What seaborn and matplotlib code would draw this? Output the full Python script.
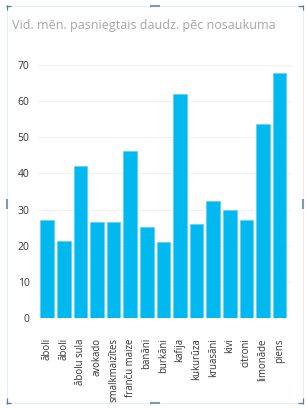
import matplotlib
matplotlib.use("Agg")
import matplotlib.pyplot as plt
import seaborn as sns
import pandas as pd
from matplotlib.lines import Line2D

categories = ["āboli", "āboli", "ābolu sula", "avokado", "smalkmaizītes", "franču maize",
              "banāni", "burkāni", "kafija", "kukurūza", "kruasāni", "kivi", "citroni",
              "limonāde", "piens"]
values = [27.0, 21.2, 42.0, 26.5, 26.5, 46.2, 25.3, 20.9, 62.1, 26.1, 32.5, 29.8, 27.0, 53.7, 67.8]
yticks = [0, 10, 20, 30, 40, 50, 60, 70]
title = "Vid. mēn. pasniegtais daudz. pēc nosaukuma"

sns.set_style("white")
plt.rcParams['font.family'] = ['Open Sans', 'DejaVu Sans']

W, H = 308, 408
fig = plt.figure(figsize=(W / 100, H / 100), dpi=100)
ax = fig.add_axes([38 / W, (H - 318) / H, (292 - 38) / W, (318 - 65) / H])

df = pd.DataFrame({"pos": [str(i) for i in range(len(categories))], "val": values})
sns.barplot(data=df, x="pos", y="val", color="#01B8EF", saturation=1, width=0.82,
            edgecolor="#5fd2f5", linewidth=0.6, ax=ax)

ax.set_xlim(-0.55, len(categories) - 0.25)
ax.set_ylim(0, 70)
ax.set_yticks(yticks)
ax.set_yticklabels([str(t) for t in yticks], fontsize=7.5, color="#333333")
ax.set_xticks(range(len(categories)))
ax.set_xticklabels(categories, rotation=90, fontsize=6.9, color="#333333", va="top", ha="center")
ax.tick_params(axis="x", length=0, pad=14.5)
ax.tick_params(axis="y", length=0, pad=6)
ax.set_xlabel("")
ax.set_ylabel("")
ax.yaxis.grid(True, color="#f0f0f0", linewidth=0.8)
ax.set_axisbelow(True)
for s in ax.spines.values():
    s.set_visible(False)

fig.text(12 / W, 1 - 26 / H, title, fontsize=9, color="#a6a6a6", ha="left", va="center")

# frame
def fl(xs, ys, c, lw):
    fig.add_artist(Line2D([x / W for x in xs], [1 - y / H for y in ys], color=c, linewidth=lw,
                          transform=fig.transFigure, solid_capstyle="butt"))

fc = "#e6edf5"
fl([6, 303], [5.5, 5.5], fc, 0.8)
fl([6, 303], [403, 403], fc, 0.8)
fl([6.5, 6.5], [5, 403], fc, 0.8)
fl([302.5, 302.5], [5, 403], fc, 0.8)
mc = "#5b7a9c"
fl([6, 11], [5.5, 5.5], mc, 0.9)
fl([6.5, 6.5], [5, 10], mc, 0.9)
fl([298, 303], [5.5, 5.5], mc, 0.9)
fl([302.5, 302.5], [5, 10], mc, 0.9)
fl([6, 11], [403, 403], mc, 0.9)
fl([6.5, 6.5], [398, 403.5], mc, 0.9)
fl([298, 303], [403, 403], mc, 0.9)
fl([302.5, 302.5], [398, 403.5], mc, 0.9)
sc = "#7f97b2"
fl([150, 160], [5.5, 5.5], sc, 1.5)
fl([150, 160], [403, 403], sc, 1.5)
fl([6.5, 6.5], [199, 209], sc, 1.5)
fl([302.5, 302.5], [199, 209], sc, 1.5)

fig.savefig("out.png", dpi=100, facecolor="white")
